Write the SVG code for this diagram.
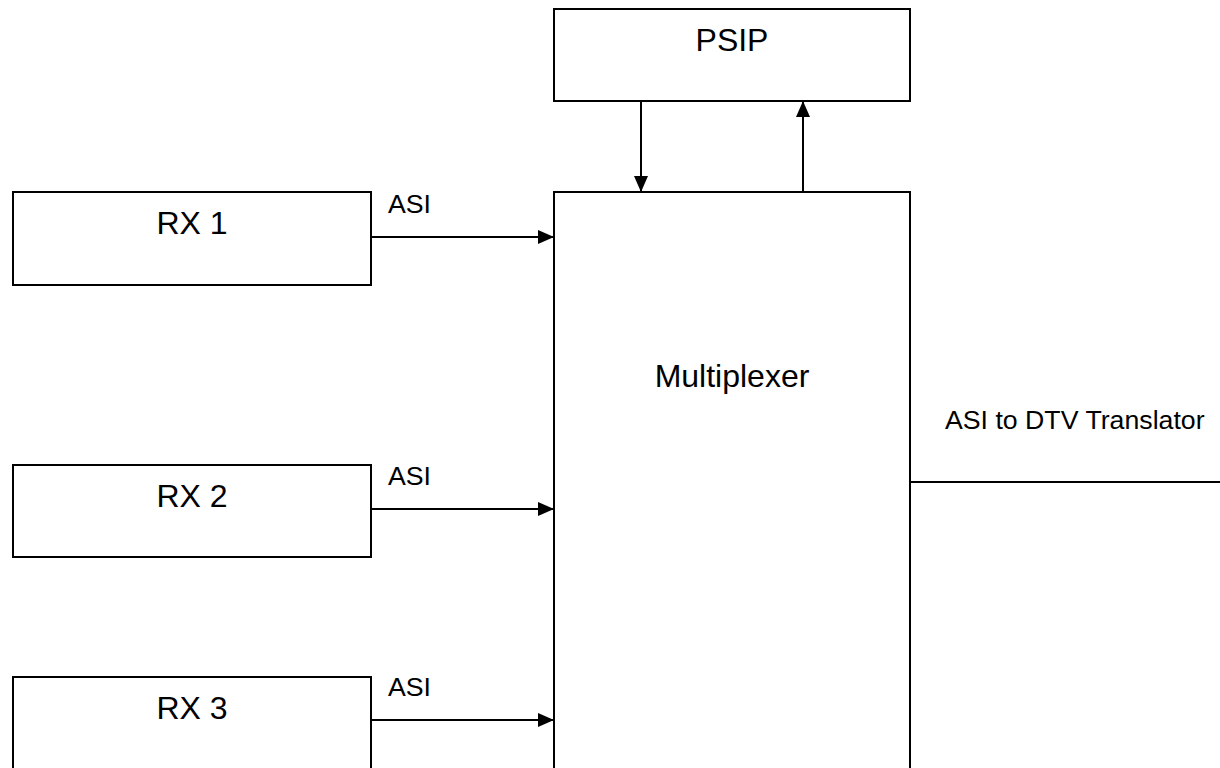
<svg xmlns="http://www.w3.org/2000/svg" width="1220" height="768" viewBox="0 0 1220 768">
  <style>
    .box { fill: #ffffff; stroke: #000000; stroke-width: 2; }
    .big { font-family: "Liberation Sans", Arial, sans-serif; font-size: 32px; fill: #000000; text-anchor: middle; }
    .small { font-family: "Liberation Sans", Arial, sans-serif; font-size: 26.7px; fill: #000000; }
    .conn { stroke: #000000; stroke-width: 2; fill: none; }
  </style>
  <defs>
    <marker id="arrow" markerUnits="userSpaceOnUse" markerWidth="16" markerHeight="14" refX="16" refY="7" orient="auto">
      <path d="M0,0 L16,7 L0,14 z" fill="#000000"/>
    </marker>
  </defs>
  <rect width="1220" height="768" fill="#ffffff"/>

  <g id="psip">
    <rect class="box" x="554" y="9" width="356" height="92"/>
    <text class="big" x="732" y="51">PSIP</text>
  </g>
  <g id="multiplexer">
    <rect class="box" x="554" y="192" width="356" height="620"/>
    <text class="big" x="732" y="387">Multiplexer</text>
  </g>
  <g id="rx1">
    <rect class="box" x="13" y="192" width="358" height="93"/>
    <text class="big" x="192" y="234">RX 1</text>
  </g>
  <g id="rx2">
    <rect class="box" x="13" y="465" width="358" height="92"/>
    <text class="big" x="192" y="507">RX 2</text>
  </g>
  <g id="rx3">
    <rect class="box" x="13" y="677" width="358" height="140"/>
    <text class="big" x="192" y="719">RX 3</text>
  </g>

  <g id="connectors">
    <line class="conn" x1="641" y1="101" x2="641" y2="192" marker-end="url(#arrow)"/>
    <line class="conn" x1="803" y1="192" x2="803" y2="101" marker-end="url(#arrow)"/>
    <line class="conn" x1="371" y1="237" x2="554" y2="237" marker-end="url(#arrow)"/>
    <line class="conn" x1="371" y1="509" x2="554" y2="509" marker-end="url(#arrow)"/>
    <line class="conn" x1="371" y1="720" x2="554" y2="720" marker-end="url(#arrow)"/>
    <line class="conn" x1="910" y1="482" x2="1220" y2="482"/>
    <text class="small" x="388" y="213">ASI</text>
    <text class="small" x="388" y="485">ASI</text>
    <text class="small" x="388" y="696">ASI</text>
    <text class="small" x="945" y="429">ASI to DTV Translator</text>
  </g>
</svg>
